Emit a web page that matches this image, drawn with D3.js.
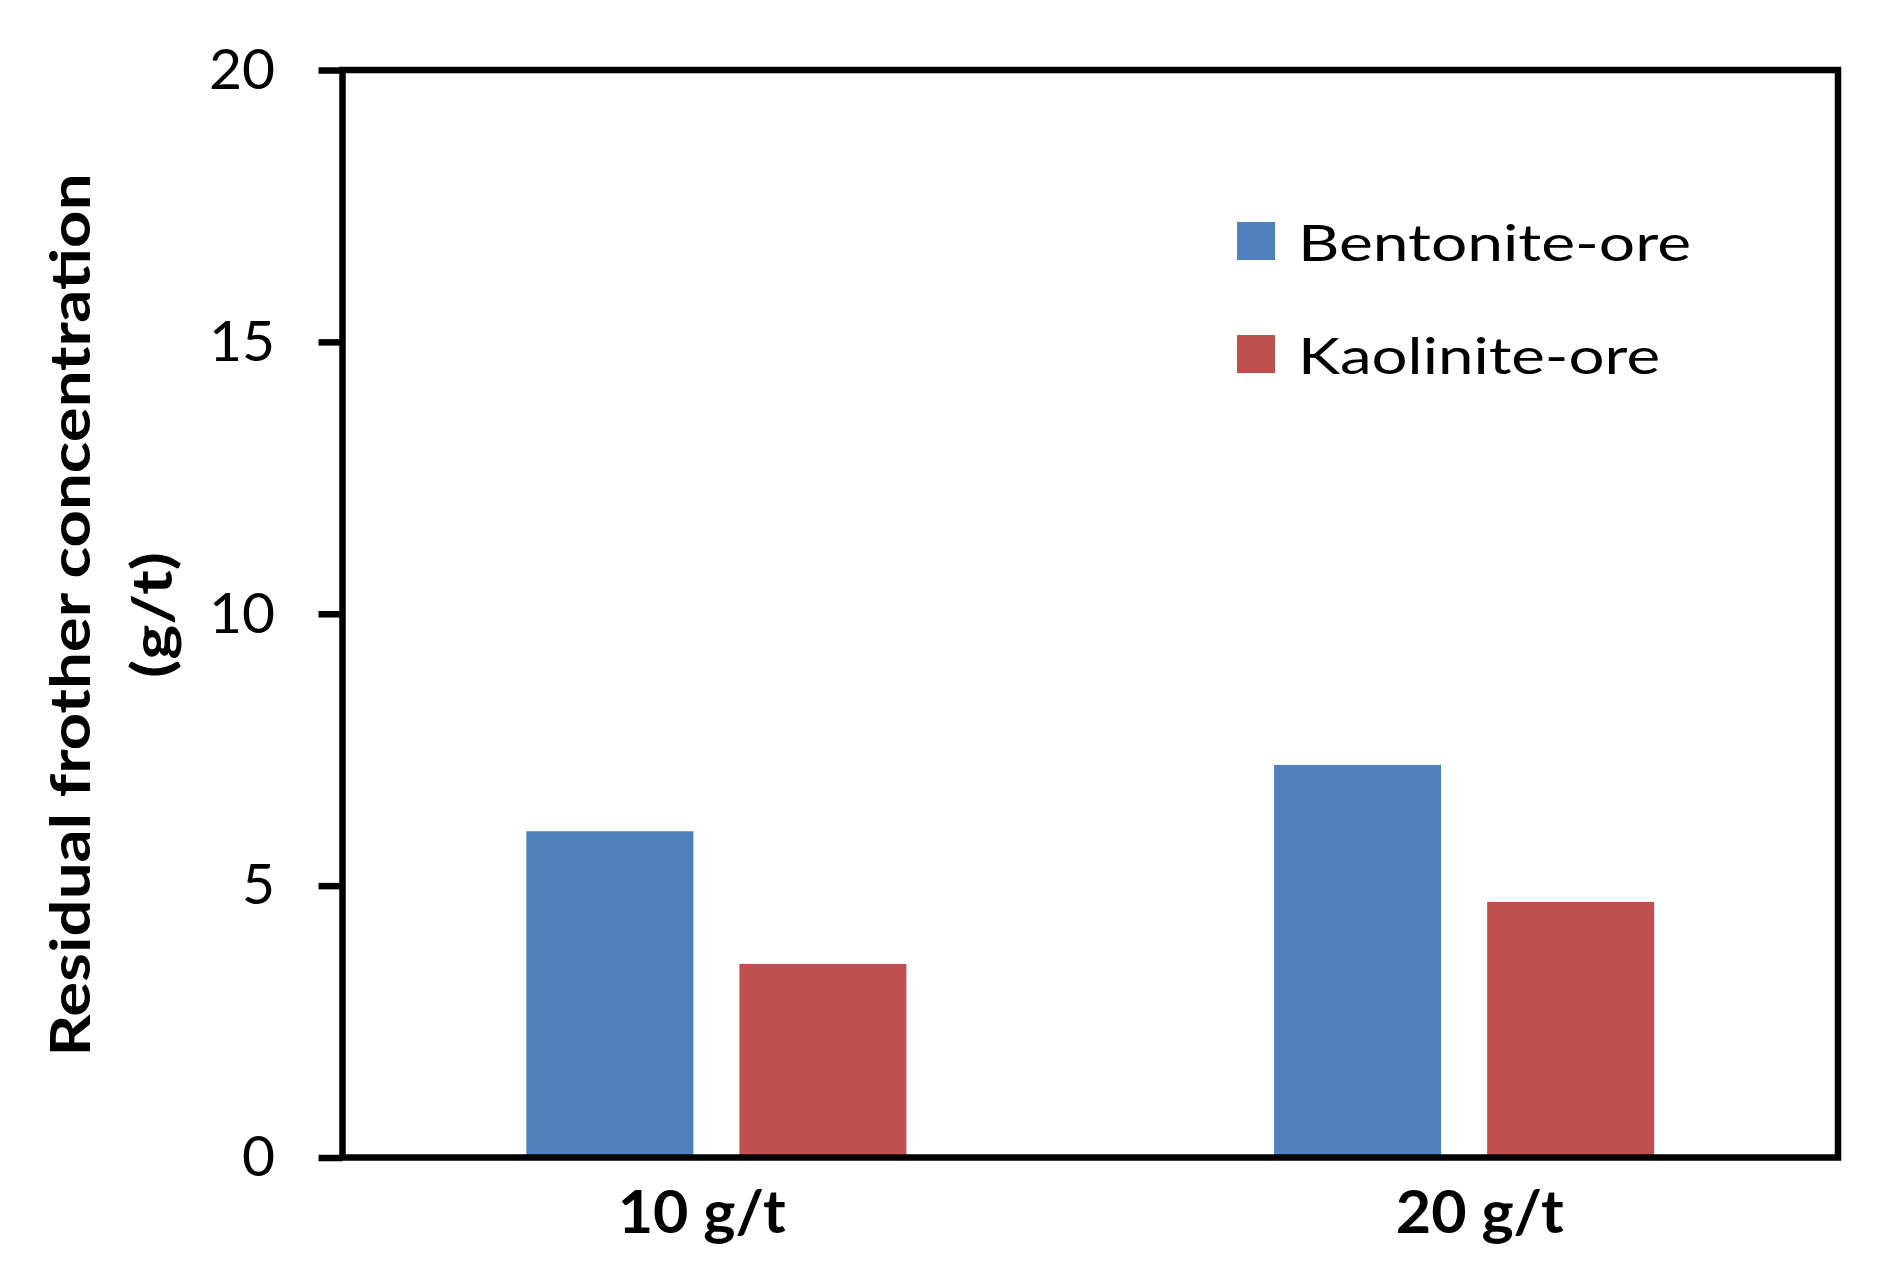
<!DOCTYPE html>
<html>
<head>
<meta charset="utf-8">
<script src="https://cdn.jsdelivr.net/npm/d3@7"></script>
<style>
  html, body { margin: 0; padding: 0; background: #fff; }
  svg { display: block; }
  text { font-family: Lato, "Open Sans", sans-serif; fill: #000; }
</style>
</head>
<body>
<svg id="chart" width="1884" height="1280"></svg>
<script>
// ---- data ----
const categories = ["10 g/t", "20 g/t"];
const seriesNames = ["Bentonite-ore", "Kaolinite-ore"];
const bentonite = [6.0, 7.22];
const kaolinite = [3.56, 4.70];
const yTicks = [0, 5, 10, 15, 20];
const yTitleLines = ["Residual frother concentration", "(g/t)"];
const colors = ["#4F81BD", "#C0504D"];

const seriesValues = [bentonite, kaolinite];

(function () {
const svg = d3.select("#chart");
const pLeft = 342.5, pRight = 1838, pTop = 70, pBottom = 1157.5;

const x0 = d3.scaleBand().domain(categories).range([pLeft, pRight]).padding(0);
const x1 = d3.scaleBand().domain(seriesNames).range([0, x0.bandwidth()])
  .paddingInner(0.216).paddingOuter(0.863);
const xLabel = d3.scalePoint().domain(categories).range([pLeft, pRight]).padding(0.461);
const y = d3.scaleLinear().domain([0, 20]).range([pBottom, pTop]);

// bars
const data = [];
categories.forEach((c, i) => {
  seriesNames.forEach((s, j) => {
    data.push({ cat: c, series: s, value: seriesValues[j][i], color: colors[j] });
  });
});
svg.append("g").selectAll("rect").data(data).join("rect")
  .attr("x", d => x0(d.cat) + x1(d.series))
  .attr("y", d => y(d.value))
  .attr("width", x1.bandwidth())
  .attr("height", d => y(0) - y(d.value))
  .attr("fill", d => d.color);

// frame
svg.append("rect")
  .attr("x", pLeft).attr("y", pTop)
  .attr("width", pRight - pLeft).attr("height", pBottom - pTop)
  .attr("fill", "none").attr("stroke", "#000").attr("stroke-width", 6.5);

// y axis
const yAxis = svg.append("g")
  .attr("transform", `translate(${pLeft},0)`)
  .call(d3.axisLeft(y).tickValues(yTicks).tickSize(24).tickSizeOuter(0).tickPadding(43.5));
yAxis.select(".domain").remove();
yAxis.selectAll(".tick line").attr("stroke", "#000").attr("stroke-width", 6.5);
yAxis.selectAll(".tick text")
  .attr("font-family", "Lato, sans-serif")
  .attr("font-size", 57).attr("fill", "#000");

// x axis labels
const xAxis = svg.append("g")
  .attr("transform", `translate(0,${pBottom})`)
  .call(d3.axisBottom(xLabel).tickSize(0).tickPadding(0));
xAxis.select(".domain").remove();
xAxis.selectAll(".tick text")
  .attr("font-family", "Lato, sans-serif")
  .attr("font-size", 59).attr("font-weight", "bold").attr("fill", "#000")
  .attr("y", 75).attr("dy", 0)
  .attr("textLength", 168).attr("lengthAdjust", "spacingAndGlyphs");

// y title
const titleCenterY = 615;
svg.append("text")
  .attr("transform", `translate(90,${titleCenterY}) rotate(-90)`)
  .attr("text-anchor", "middle")
  .attr("font-size", 56).attr("font-weight", "bold")
  .attr("textLength", 883).attr("lengthAdjust", "spacingAndGlyphs")
  .text(yTitleLines[0]);
svg.append("text")
  .attr("transform", `translate(172,${titleCenterY}) rotate(-90)`)
  .attr("text-anchor", "middle")
  .attr("font-size", 56).attr("font-weight", "bold")
  .attr("textLength", 126).attr("lengthAdjust", "spacingAndGlyphs")
  .text(yTitleLines[1]);

// legend
const legendX = 1237, legendYs = [222, 335], sq = 38;
const legendWidths = [393, 362];
const lg = svg.append("g");
seriesNames.forEach((s, j) => {
  lg.append("rect")
    .attr("x", legendX).attr("y", legendYs[j])
    .attr("width", sq).attr("height", sq)
    .attr("fill", colors[j]);
  lg.append("text")
    .attr("x", 1298).attr("y", legendYs[j] + 39)
    .attr("font-size", 51)
    .attr("textLength", legendWidths[j]).attr("lengthAdjust", "spacingAndGlyphs")
    .text(s);
});
})();
</script>
</body>
</html>
